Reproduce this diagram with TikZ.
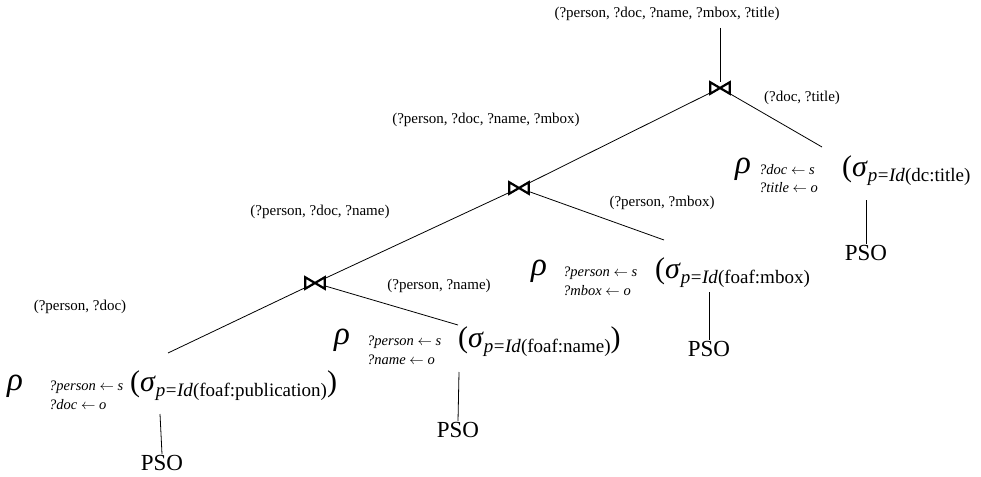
\documentclass[tikz,border=0pt]{standalone}
\usepackage{fontspec}
\setmainfont{Liberation Serif}
\newcommand{\sigopen}[1]{{\fontsize{30}{30}\selectfont(\textit{σ}}\raisebox{-5pt}{\fontsize{19}{19}\selectfont\textit{p}\kern0.5pt=\kern0.5pt\textit{Id}(#1)}}
\newcommand{\bigclose}{{\fontsize{30}{30}\selectfont)}}
\newcommand{\asg}[2]{\textit{#1} $\leftarrow$ \textit{#2}}
\begin{document}
\begin{tikzpicture}[x=1pt,y=-1pt,
  lbl/.style={font=\fontsize{15}{15}\selectfont, inner sep=0pt},
  rhos/.style={font=\fontsize{33}{33}\selectfont\itshape, inner sep=0pt, anchor=base west},
  subs/.style={font=\fontsize{14.5}{14.5}\selectfont, inner sep=0pt, anchor=base west},
  sig/.style={inner sep=0pt, anchor=base west},
  pso/.style={font=\fontsize{23}{23}\selectfont, inner sep=1pt},
  edge/.style={line width=0.8pt},
  joinbox/.style={minimum width=19pt, minimum height=11pt, inner sep=0pt},
  bowtie/.style={line width=2.2pt, line join=miter}
]
\useasboundingbox (0,0) rectangle (981,476);

% join nodes
\node[joinbox] (j1) at (720,88) {};
\node[joinbox] (j2) at (519,188) {};
\node[joinbox] (j3) at (315,283) {};
\foreach \j in {j1,j2,j3}{
  \draw[bowtie] (\j.north west) -- (\j.south west) -- (\j.north east) -- (\j.south east) -- cycle;
}

% labels
\node[lbl] (l1) at (667,14) {(?person, ?doc, ?name, ?mbox, ?title)};
\node[lbl] (l2) at (802,98) {(?doc, ?title)};
\node[lbl] (l3) at (486,120) {(?person, ?doc, ?name, ?mbox)};
\node[lbl] (l4) at (662,203) {(?person, ?mbox)};
\node[lbl] (l5) at (320,212) {(?person, ?doc, ?name)};
\node[lbl] (l6) at (439,286) {(?person, ?name)};
\node[lbl] (l7) at (80,307) {(?person, ?doc)};

% leaf 1
\node[rhos] (r1) at (7,390) {ρ};
\node[subs] (a1) at (49,390) {\asg{?person}{s}};
\node[subs] (b1) at (49,409) {\asg{?doc}{o}};
\node[sig] (s1) at (130,391) {\sigopen{foaf:publication}\bigclose};
\node[pso] (p1) at (162,463) {PSO};
% leaf 2
\node[rhos] (r2) at (334,344) {ρ};
\node[subs] (a2) at (367,345) {\asg{?person}{s}};
\node[subs] (b2) at (367,364) {\asg{?name}{o}};
\node[sig] (s2) at (458,347) {\sigopen{foaf:name}\bigclose};
\node[pso] (p2) at (458,430) {PSO};
% leaf 3
\node[rhos] (r3) at (531,275) {ρ};
\node[subs] (a3) at (563,276) {\asg{?person}{s}};
\node[subs] (b3) at (563,295) {\asg{?mbox}{o}};
\node[sig] (s3) at (655,278) {\sigopen{foaf:mbox}};
\node[pso] (p3) at (709,349) {PSO};
% leaf 4
\node[rhos] (r4) at (735,173) {ρ};
\node[subs] (a4) at (759,174) {\asg{?doc}{s}};
\node[subs] (b4) at (759,192) {\asg{?title}{o}};
\node[sig] (s4) at (842,176) {\sigopen{dc:title}};
\node[pso] (p4) at (866,253) {PSO};

% connector end points
\coordinate (top) at (720,28);
\coordinate (e1) at (168,353);
\coordinate (e2) at (458,325);
\coordinate (e3) at (664,240);
\coordinate (e4) at (822,147);
\coordinate (v1) at (160,414);
\coordinate (v2) at (459,372);
\coordinate (v3) at (709,292);
\coordinate (v4) at (866,200);

% connectors
\draw[edge] (top) -- (j1);
\draw[edge] (j1) -- (j2);
\draw[edge] (j1) -- (e4);
\draw[edge] (j2) -- (j3);
\draw[edge] (j2) -- (e3);
\draw[edge] (j3) -- (e1);
\draw[edge] (j3) -- (e2);
\draw[edge] (v1) -- (p1.north);
\draw[edge] (v2) -- (p2.north);
\draw[edge] (v3) -- (p3.north);
\draw[edge] (v4) -- (p4.north);
\end{tikzpicture}
\end{document}
